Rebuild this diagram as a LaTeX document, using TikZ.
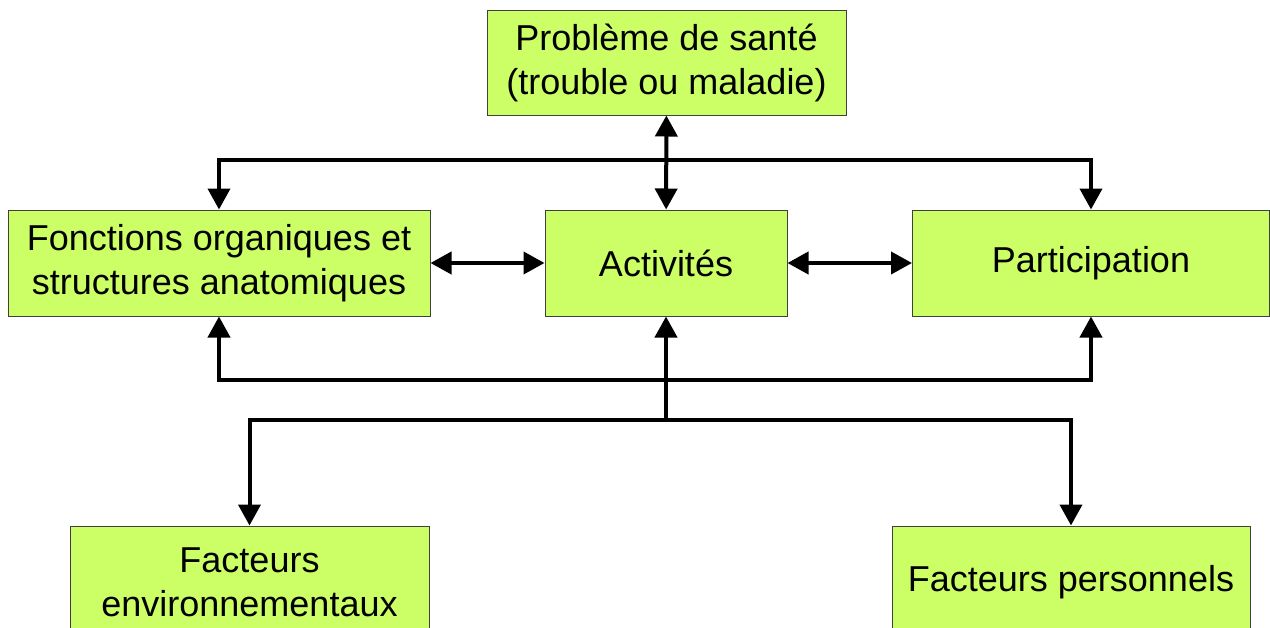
\documentclass[tikz,border=0pt]{standalone}
\usepackage{fontspec}
\setmainfont{Liberation Sans}
\usetikzlibrary{arrows.meta}
\definecolor{boxfill}{HTML}{CCFF66}
\definecolor{boxline}{HTML}{404040}
\tikzset{
  box/.style={draw=boxline, line width=1pt, fill=boxfill, inner sep=0pt, align=center,
    font=\fontsize{36}{44}\selectfont, text=black},
  conn/.style={line width=4pt, draw=black, line join=miter},
  tip/.style={-{Triangle[width=22pt,length=21pt]}},
  dtip/.style={{Triangle[width=22pt,length=21pt]}-{Triangle[width=22pt,length=21pt]}}
}
\begin{document}
\begin{tikzpicture}[x=1pt,y=-1pt]
\useasboundingbox (0,0) rectangle (1270,627);
\clip (0,0) rectangle (1270,627);
\fill[white] (0,0) rectangle (1270,627);
% boxes
\node[box, minimum width=359pt, minimum height=105pt] (prob) at (666.5,62.5) {Problème de santé\\(trouble ou maladie)};
\node[box, minimum width=422pt, minimum height=106pt] (fonc) at (219,263) {Fonctions organiques et\\structures anatomiques};
\node[box, minimum width=242pt, minimum height=106pt] (act) at (666,263) {Activités};
\node[box, minimum width=357pt, minimum height=106pt] (part) at (1091,263) {Participation};
\node[box, minimum width=359pt, minimum height=112pt] (env) at (249.5,582) {Facteurs\\environnementaux};
\node[box, minimum width=358pt, minimum height=112pt] (pers) at (1071,582) {Facteurs personnels};
% junctions
\coordinate (jt) at (666,160);
\coordinate (jb1) at (666,380);
\coordinate (jb2) at (666,420);
% connectors
\draw[conn, dtip] (prob) -- (act);
\draw[conn, tip] (jt) -| (fonc.north);
\draw[conn, tip] (jt) -| (part.north);
\draw[conn, dtip] (fonc) -- (act);
\draw[conn, dtip] (act) -- (part);
\draw[conn, tip] (jb1) -| (fonc.south);
\draw[conn, tip] (jb1) -| (part.south);
\draw[conn, tip] (jb2) -- (act.south);
\draw[conn, tip] (jb2) -| (env.north);
\draw[conn, tip] (jb2) -| (pers.north);
\end{tikzpicture}
\end{document}
